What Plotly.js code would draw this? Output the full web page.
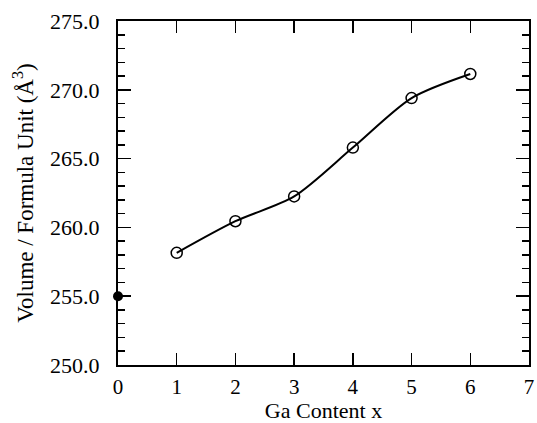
<!DOCTYPE html>
<html>
<head>
<meta charset="utf-8">
<script src="https://cdn.plot.ly/plotly-3.0.1.min.js"></script>
<style>html,body{margin:0;padding:0;background:#fff;}#chart{width:537px;height:423px;}</style>
</head>
<body>
<div id="chart"></div>
<script>
var gaContent = [1, 2, 3, 4, 5, 6];
var volume = [258.15, 260.45, 262.25, 265.8, 269.4, 271.15];
var refX = [0];
var refVolume = [255.0];
var xTicks = [0, 1, 2, 3, 4, 5, 6, 7];
var yTicks = [250, 255, 260, 265, 270, 275];

var fam = 'Liberation Serif, Times New Roman, serif';

var traces = [
  {
    x: gaContent, y: volume, type: 'scatter', mode: 'lines+markers',
    line: {color: '#000', width: 2, shape: 'spline', smoothing: 0.8},
    marker: {symbol: 'circle-open', size: 11, color: '#000', line: {width: 1.5, color: '#000'}},
    cliponaxis: false, hoverinfo: 'skip'
  },
  {
    x: refX, y: refVolume, type: 'scatter', mode: 'markers',
    marker: {symbol: 'circle', size: 10, color: '#000'},
    cliponaxis: false, hoverinfo: 'skip'
  }
];

var layout = {
  width: 537, height: 423,
  margin: {l: 118, r: 8, t: 21, b: 58},
  paper_bgcolor: '#fff', plot_bgcolor: '#fff',
  showlegend: false,
  font: {family: fam, color: '#000'},
  xaxis: {
    range: [0, 7], tickvals: xTicks, ticktext: xTicks.map(String),
    ticks: 'inside', ticklen: 12, tickwidth: 1.5, tickcolor: '#000',
    showline: true, linewidth: 2, linecolor: '#000', mirror: 'allticks',
    showgrid: false, zeroline: false, ticklabelstandoff: 2,
    tickfont: {family: fam, size: 21, color: '#000'},
    title: {text: 'Ga Content x', font: {family: fam, size: 22, color: '#000'}, standoff: 2}
  },
  yaxis: {
    range: [250, 275], tickvals: yTicks, tickformat: '.1f',
    ticks: 'inside', ticklen: 13, tickwidth: 1.5, tickcolor: '#000',
    minor: {dtick: 1, ticks: 'inside', ticklen: 7, tickwidth: 1.5, tickcolor: '#000', showgrid: false},
    showline: true, linewidth: 2, linecolor: '#000', mirror: 'allticks',
    showgrid: false, zeroline: false, ticklabelstandoff: 12,
    tickfont: {family: fam, size: 22, color: '#000'},
    title: {text: 'Volume / Formula Unit (Å<sup>3</sup>)', font: {family: fam, size: 23, color: '#000'}, standoff: 10}
  }
};

Plotly.newPlot('chart', traces, layout, {staticPlot: true, displayModeBar: false});
</script>
</body>
</html>
